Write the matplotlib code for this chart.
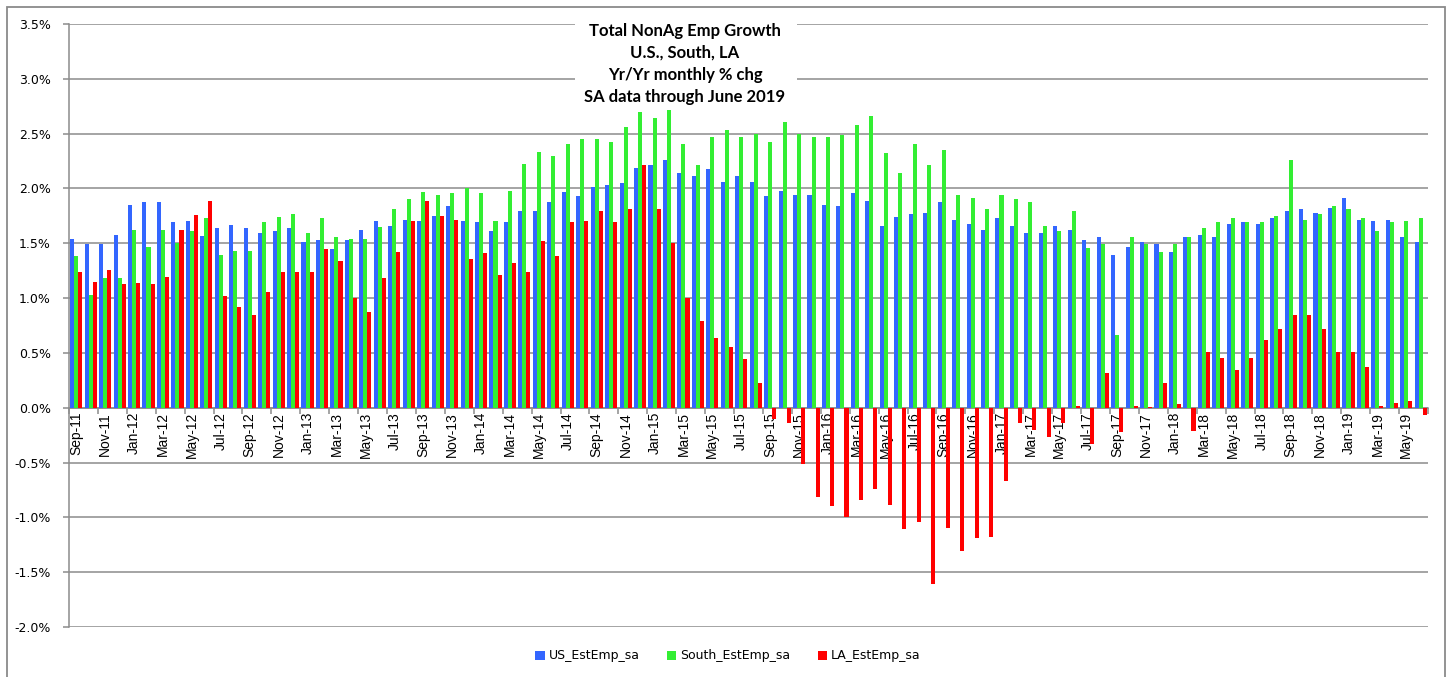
import matplotlib
matplotlib.use("Agg")
import matplotlib.pyplot as plt
import numpy as np
import pandas as pd
from matplotlib.patches import Patch, Rectangle

plt.rcParams['axes.unicode_minus'] = False

# ---------------- data ----------------
months = pd.date_range('2011-09-01', periods=94, freq='MS').strftime('%b-%y').tolist()

us = [1.54, 1.49, 1.49, 1.58, 1.85, 1.88, 1.88, 1.69, 1.70, 1.57,
      1.64, 1.67, 1.64, 1.59, 1.61, 1.64, 1.51, 1.53, 1.45, 1.53,
      1.62, 1.70, 1.66, 1.71, 1.70, 1.75, 1.84, 1.70, 1.69, 1.61,
      1.69, 1.79, 1.79, 1.88, 1.97, 1.93, 2.01, 2.03, 2.05, 2.19,
      2.21, 2.26, 2.14, 2.11, 2.18, 2.06, 2.11, 2.06, 1.93, 1.98,
      1.94, 1.94, 1.85, 1.84, 1.96, 1.89, 1.66, 1.74, 1.77, 1.78,
      1.88, 1.71, 1.68, 1.62, 1.73, 1.66, 1.59, 1.59, 1.66, 1.62,
      1.53, 1.56, 1.39, 1.47, 1.51, 1.49, 1.42, 1.56, 1.58, 1.56,
      1.68, 1.69, 1.68, 1.73, 1.79, 1.81, 1.78, 1.82, 1.91, 1.71,
      1.70, 1.71, 1.56, 1.51]

south = [1.38, 1.03, 1.18, 1.18, 1.62, 1.47, 1.62, 1.50, 1.61, 1.73,
         1.39, 1.43, 1.43, 1.69, 1.74, 1.77, 1.59, 1.73, 1.56, 1.54,
         1.54, 1.65, 1.81, 1.90, 1.97, 1.94, 1.96, 2.00, 1.96, 1.70,
         1.98, 2.22, 2.33, 2.30, 2.41, 2.45, 2.45, 2.42, 2.56, 2.70,
         2.64, 2.72, 2.41, 2.21, 2.47, 2.53, 2.47, 2.50, 2.42, 2.61,
         2.50, 2.47, 2.47, 2.49, 2.58, 2.66, 2.32, 2.14, 2.41, 2.21,
         2.35, 1.94, 1.91, 1.81, 1.94, 1.90, 1.88, 1.66, 1.61, 1.79,
         1.46, 1.49, 0.66, 1.56, 1.49, 1.42, 1.49, 1.56, 1.64, 1.69,
         1.73, 1.69, 1.69, 1.75, 2.26, 1.71, 1.77, 1.84, 1.81, 1.73,
         1.61, 1.69, 1.70, 1.73]

la = [1.24, 1.15, 1.26, 1.13, 1.14, 1.13, 1.19, 1.62, 1.76, 1.89,
      1.02, 0.92, 0.85, 1.06, 1.24, 1.24, 1.24, 1.45, 1.34, 1.00,
      0.87, 1.18, 1.42, 1.70, 1.89, 1.75, 1.71, 1.36, 1.41, 1.21,
      1.32, 1.24, 1.52, 1.38, 1.69, 1.70, 1.79, 1.69, 1.81, 2.21,
      1.81, 1.50, 1.00, 0.79, 0.64, 0.55, 0.44, 0.23, -0.10, -0.14,
      -0.51, -0.81, -0.90, -1.00, -0.84, -0.74, -0.89, -1.11, -1.04, -1.61,
      -1.10, -1.31, -1.19, -1.18, -0.67, -0.14, -0.20, -0.27, -0.14, 0.02,
      -0.33, 0.32, -0.22, 0.02, 0.005, 0.23, 0.03, -0.21, 0.51, 0.45,
      0.34, 0.45, 0.62, 0.72, 0.85, 0.85, 0.72, 0.51, 0.51, 0.37,
      0.02, 0.04, 0.06, -0.07]

series_names = ['US_EstEmp_sa', 'South_EstEmp_sa', 'LA_EstEmp_sa']
title_lines = ['Total NonAg Emp Growth', 'U.S., South, LA',
               'Yr/Yr monthly % chg', 'SA data through June 2019']
y_ticks = [-2.0, -1.5, -1.0, -0.5, 0.0, 0.5, 1.0, 1.5, 2.0, 2.5, 3.0, 3.5]

# ---------------- style ----------------
W, H = 1447, 677
colors = ['#3366FF', '#33EE33', '#FF0000']
grid_c = '#8C8C8C'

fig = plt.figure(figsize=(W / 100, H / 100), dpi=100)
fig.patch.set_facecolor('white')

left, right, top, bottom = 69, 1428, 24, 627
ax = fig.add_axes([left / W, 1 - bottom / H, (right - left) / W, (bottom - top) / H])

x = np.arange(len(months))
bw = 0.28
for i, (vals, c) in enumerate(zip([us, south, la], colors)):
    ax.bar(x + (i - 1) * bw, vals, bw, color=c, linewidth=0, zorder=3)

ax.set_xlim(-0.5, len(months) - 0.5)
ax.set_ylim(-2.0, 3.5)
ax.set_yticks(y_ticks)
ax.set_yticklabels([f"{v:.1f}%" for v in y_ticks], fontsize=9, family='DejaVu Sans')
ax.yaxis.grid(True, color=grid_c, linewidth=1.1, zorder=0)
ax.set_axisbelow(True)

for s in ['top', 'right']:
    ax.spines[s].set_visible(False)
ax.spines['left'].set_color(grid_c)
ax.spines['left'].set_linewidth(1.1)
ax.spines['bottom'].set_position(('data', 0))
ax.spines['bottom'].set_color(grid_c)
ax.spines['bottom'].set_linewidth(1.1)
ax.spines['bottom'].set_zorder(2)

ax.tick_params(axis='y', length=4, color=grid_c, width=1.1, pad=9, labelcolor='black')

ax.set_xticks(x[::2])
ax.set_xticklabels(months[::2], rotation=90,
                   family=['Liberation Sans Narrow', 'Liberation Sans'], fontsize=10)
ax.set_xticks(np.arange(-0.5, len(months), 2), minor=True)
ax.tick_params(axis='x', which='major', length=0, pad=3)
ax.tick_params(axis='x', which='minor', length=4, color=grid_c, width=1.1)

# title box
fig.patches.append(Rectangle((575 / W, 1 - 104 / H), (797 - 575) / W, (104 - 12) / H,
                             transform=fig.transFigure, facecolor='white',
                             edgecolor='none', zorder=5))
for yy, t in zip([31, 53, 75, 97], title_lines):
    fig.text(685 / W, 1 - yy / H, t, ha='center', va='center', fontsize=12,
             fontweight='bold', family='Lato', zorder=6)

# legend
handles = [Patch(facecolor=c, edgecolor='none') for c in colors]
fig.legend(handles, series_names, loc='center', bbox_to_anchor=(728 / W, 1 - 656 / H),
           ncol=3, frameon=False, prop={'family': 'DejaVu Sans', 'size': 9},
           handlelength=0.75, handleheight=0.75, handletextpad=0.3, columnspacing=2.2)

# outer border
fig.patches.append(Rectangle((7 / W, -0.01), (1445 - 7) / W, 1 - 7 / H + 0.01,
                             transform=fig.transFigure, facecolor='none',
                             edgecolor='#8A8A8A', linewidth=1.3, zorder=7))

fig.savefig('out.png', dpi=100)
